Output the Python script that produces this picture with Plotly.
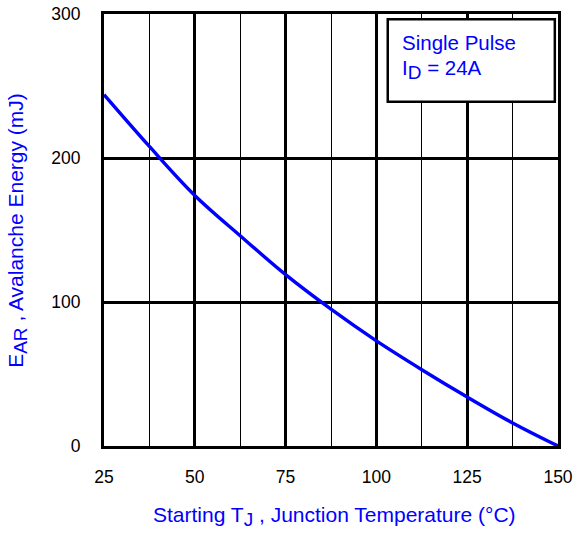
import plotly.graph_objects as go

# Data
temp_c = [25, 37.5, 50, 62.5, 75, 87.5, 100, 112.5, 125, 137.5, 150]
energy_mj = [244, 208, 174, 146, 119, 95, 73, 53, 34, 16, 0]

x_ticks = [25, 50, 75, 100, 125, 150]
y_ticks = [0, 100, 200, 300]

FONT = "Liberation Sans, Arial, sans-serif"
BLUE = "#0000FF"


def sub(s, px):
    return f"<sub><span style='font-size:{px}px'>{s}</span></sub>"


fig = go.Figure()
fig.add_trace(go.Scatter(
    x=temp_c, y=energy_mj, mode="lines",
    line=dict(color=BLUE, width=3.4, shape="spline", smoothing=1.0),
    showlegend=False, hoverinfo="skip",
))

fig.update_layout(
    width=577, height=533,
    margin=dict(l=104, r=19, t=14, b=87),
    paper_bgcolor="white", plot_bgcolor="white",
    font=dict(family=FONT, size=17, color="black"),
    xaxis=dict(
        range=[25, 150], tickvals=x_ticks, ticktext=[str(v) for v in x_ticks],
        showgrid=True, gridcolor="black", gridwidth=3,
        minor=dict(dtick=12.5, tick0=25, showgrid=True, gridcolor="black", gridwidth=1),
        showline=True, linecolor="black", linewidth=3, mirror=True,
        ticks="", ticklabelstandoff=13, zeroline=False, automargin=False,
        tickfont=dict(family=FONT, size=17.5, color="black"),
    ),
    yaxis=dict(
        range=[0, 300], tickvals=y_ticks, ticktext=[str(v) for v in y_ticks],
        showgrid=True, gridcolor="black", gridwidth=3,
        showline=True, linecolor="black", linewidth=3, mirror=True,
        ticks="", ticklabelstandoff=17, zeroline=False, automargin=False,
        tickfont=dict(family=FONT, size=17.5, color="black"),
    ),
    shapes=[dict(
        type="rect", xref="paper", yref="paper",
        x0=0.625, x1=0.993, y0=0.797, y1=0.988,
        fillcolor="white", line=dict(color="black", width=2.5), layer="above",
    )],
    annotations=[
        dict(text="Single Pulse", xref="paper", yref="paper", x=0.652, y=0.933,
             xanchor="left", yanchor="middle", showarrow=False,
             font=dict(family=FONT, size=20.5, color=BLUE)),
        dict(text="I" + sub("D", 19) + " = 24A", xref="paper", yref="paper", x=0.652, y=0.872,
             xanchor="left", yanchor="middle", showarrow=False,
             font=dict(family=FONT, size=20.5, color=BLUE)),
        dict(text="Starting T" + sub("J", 19) + " , Junction Temperature (°C)",
             xref="paper", yref="paper", x=0.508, y=-0.163,
             xanchor="center", yanchor="middle", showarrow=False,
             font=dict(family=FONT, size=21, color=BLUE)),
        dict(text="E" + sub("AR", 19) + " , Avalanche Energy (mJ)",
             xref="paper", yref="paper", x=-0.192, y=0.5, textangle=-90,
             xanchor="center", yanchor="middle", showarrow=False,
             font=dict(family=FONT, size=21, color=BLUE)),
    ],
)

fig.write_html(
    "out.html",
    config={"displayModeBar": False},
    post_script="document.body.style.margin='0';document.body.style.overflow='hidden';",
)
